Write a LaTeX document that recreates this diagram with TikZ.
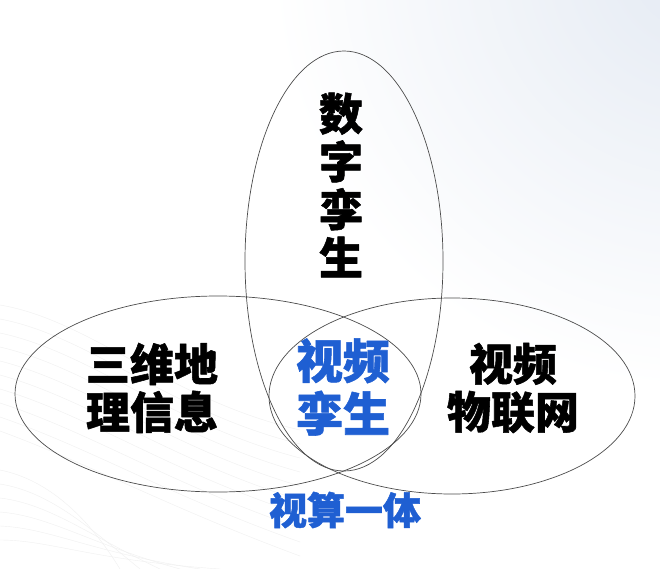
\documentclass[tikz,border=0pt]{standalone}
\usepackage{fontspec}
\newfontfamily\cjk{Noto Sans CJK SC}[BoldFeatures={FakeBold=1.2}]
\definecolor{twinblue}{HTML}{1F5FD2}
\definecolor{bgblue}{HTML}{E4EAF3}
\begin{document}
\begin{tikzpicture}[x=1pt,y=-1pt,line join=round,line cap=round,
		ring/.style={draw=black!70,line width=0.7pt},
		faint/.style={draw=black!6,line width=0.4pt},
		label/.style={font=\cjk\bfseries\fontsize{44}{48}\selectfont,align=center,inner sep=0pt},
		core/.style={label,text=twinblue,font=\cjk\bfseries\fontsize{47}{53}\selectfont}]
				\useasboundingbox (0,0) rectangle (660,569);
				\fill[white] (0,0) rectangle (660,569);
				\begin{scope}
					\clip (0,0) rectangle (660,569);
					\shade[inner color=bgblue,outer color=white] (700,-40) circle (430pt);
					\foreach \i in {0,...,9}
						\draw[faint] (0,305+\i*14) .. controls (90,320+\i*16) and (170,400+\i*12) .. (300,430+\i*14);
					\foreach \i in {0,...,5}
						\draw[faint] (0,470+\i*14) .. controls (50,480+\i*12) and (90,520+\i*8) .. (120+\i*20,569);
				\end{scope}
				\draw[ring] (344,261) ellipse [x radius=99,y radius=210];
				\draw[ring] (218,394) ellipse [x radius=203,y radius=98];
				\draw[ring] (452,396) ellipse [x radius=183,y radius=98];
				\node[label] (digital) at (341,185) {\fontsize{44}{50}\selectfont 数\\字\\孪\\生};
				\node[label] (gis) at (152,388) {三维地\\理信息};
				\node[label] (iot) at (513,388) {视频\\物联网};
				\node[core] (video) at (343,387) {视频\\孪生};
				\node[label,text=twinblue,font=\cjk\bfseries\fontsize{38}{40}\selectfont] (compute) at (345,510) {视算一体};
			\end{tikzpicture}
\end{document}
